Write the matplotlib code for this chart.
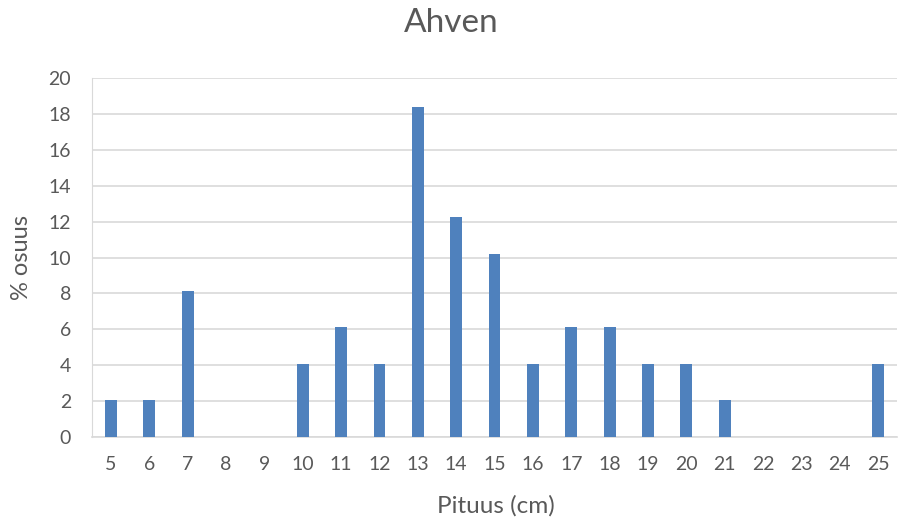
import matplotlib
matplotlib.use("Agg")
import matplotlib.pyplot as plt
import numpy as np

categories = [str(v) for v in range(5, 26)]
values = [2.04, 2.04, 8.16, 0, 0, 4.08, 6.12, 4.08, 18.37, 12.24, 10.2,
          4.08, 6.12, 6.12, 4.08, 4.08, 2.04, 0, 0, 0, 4.08]
yticks = list(range(0, 21, 2))

plt.rcParams['font.family'] = ['Lato', 'DejaVu Sans']
txt = '#595959'

fig = plt.figure(figsize=(9, 5.24), dpi=100)
ax = fig.add_axes([0.102, 0.166, 0.895, 0.685])
x = np.arange(len(categories))
ax.bar(x, values, width=0.31, color='#4f81bd', zorder=3)
ax.set_xlim(-0.5, len(categories) - 0.5)
ax.set_ylim(0, 20)
ax.set_yticks(yticks)
ax.set_xticks(x)
ax.set_xticklabels(categories)
ax.grid(axis='y', color='#d9d9d9', linewidth=1.2, zorder=0)
for s in ['top', 'right']:
    ax.spines[s].set_visible(False)
ax.spines['left'].set_color('#d9d9d9')
ax.spines['bottom'].set_color('#d9d9d9')
ax.spines['bottom'].set_linewidth(1.2)
ax.tick_params(axis='both', length=0, labelsize=14, colors=txt)
ax.tick_params(axis='y', pad=15)
ax.tick_params(axis='x', pad=14)
fig.text(0.501, 1 - 23 / 524, 'Ahven', fontsize=24, color=txt, ha='center', va='center')
fig.text(496 / 900, 1 - 506 / 524, 'Pituus (cm)', fontsize=17.5, color=txt, ha='center', va='center')
fig.text(22 / 900, 1 - 258 / 524, '% osuus', fontsize=17, color=txt, ha='center', va='center',
         rotation=90)
fig.savefig('out.png', dpi=100)
